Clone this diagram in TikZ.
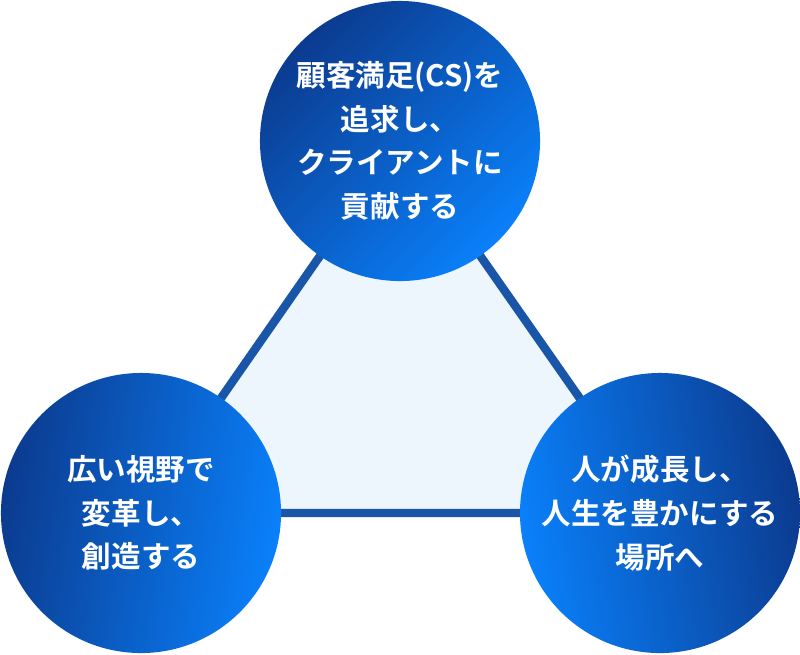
\documentclass[tikz,border=0pt]{standalone}
\usepackage{fontspec}
\newfontfamily\jpfont{Noto Sans CJK JP}[BoldFont={Noto Sans CJK JP Bold}]
\usetikzlibrary{backgrounds}
\definecolor{deepblue}{HTML}{0B3B8F}
\definecolor{brightblue}{HTML}{0A80FA}
\definecolor{edgeblue}{HTML}{1A56A8}
\definecolor{paleblue}{HTML}{EDF5FD}
\tikzset{
  valuecircle/.style={circle, minimum size=7cm, inner sep=0pt, align=center,
    text=white, font=\jpfont\bfseries\fontsize{21}{31}\selectfont},
}
\begin{document}
\begin{tikzpicture}[x=0.025cm,y=-0.025cm]
\useasboundingbox (0,0) rectangle (800,654);

\node[valuecircle, left color=deepblue, right color=brightblue, shading angle=45] (cs) at (400,141) {顧客満足(CS)を\\追求し、\\クライアントに\\貢献する};
\node[valuecircle, left color=deepblue, right color=brightblue, shading angle=80] (create) at (141,513) {広い視野で\\変革し、\\創造する};
\node[valuecircle, left color=brightblue, right color=deepblue, shading angle=100] (grow) at (660,513) {人が成長し、\\人生を豊かにする\\場所へ};

\begin{scope}[on background layer]
\draw[edgeblue, line width=6pt, line join=miter, fill=paleblue] (cs.center) -- (grow.center) -- (create.center) -- cycle;
\end{scope}

\end{tikzpicture}
\end{document}
